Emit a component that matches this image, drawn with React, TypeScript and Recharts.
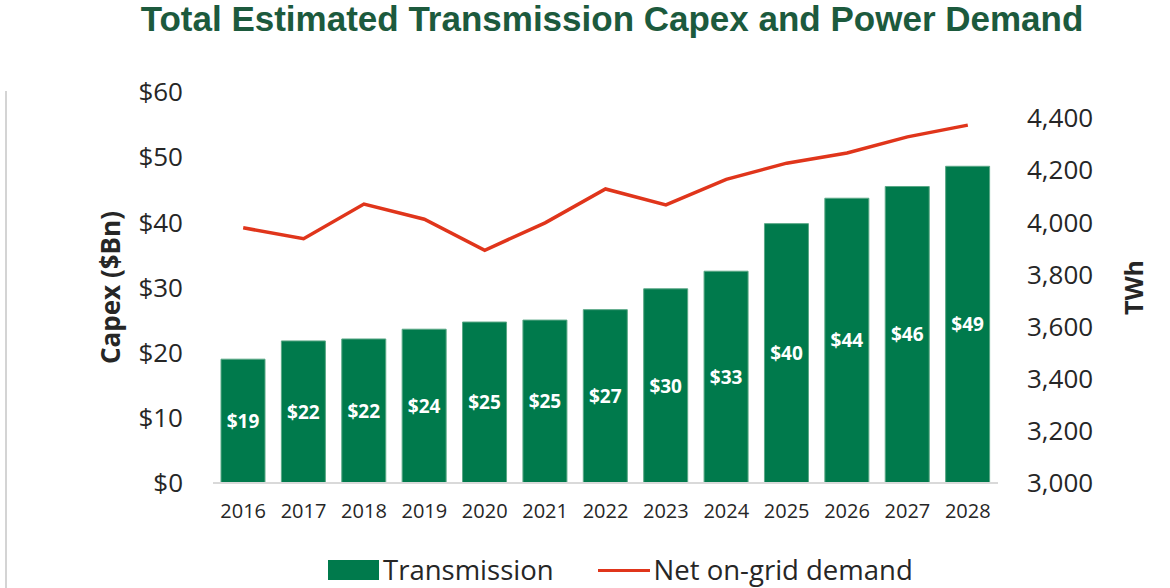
import { Bar, ComposedChart, LabelList, Line, XAxis, YAxis } from 'recharts';

const years = ['2016', '2017', '2018', '2019', '2020', '2021', '2022', '2023', '2024', '2025', '2026', '2027', '2028'];
const capex = [19.0, 21.8, 22.1, 23.6, 24.7, 25.0, 26.6, 29.8, 32.5, 39.8, 43.7, 45.5, 48.6];
const demand = [3979, 3937, 4070, 4012, 3893, 3998, 4128, 4067, 4165, 4227, 4266, 4328, 4373];
const capexTicks = [0, 10, 20, 30, 40, 50, 60];
const twhTicks = [3000, 3200, 3400, 3600, 3800, 4000, 4200, 4400];

const data = years.map((year, i) => ({ year, capex: capex[i], demand: demand[i] }));

const GREEN = '#007A4C';
const RED = '#E0351B';
const TEXT = '#262626';
const FONT = '"Open Sans", sans-serif';

export default function App() {
  return (
    <div style={{ position: 'absolute', left: 0, top: 0, width: 1170, height: 588, background: '#fff', fontFamily: FONT, overflow: 'hidden' }}>
      <div
        style={{
          position: 'absolute',
          top: 1,
          left: 112,
          width: 1000,
          textAlign: 'center',
          fontFamily: '"Liberation Sans", Arial, sans-serif',
          fontWeight: 700,
          fontSize: 35,
          lineHeight: '35px',
          color: '#1C5A3D',
          whiteSpace: 'nowrap',
        }}
      >
        Total Estimated Transmission Capex and Power Demand
      </div>
      <div style={{ position: 'absolute', left: 5, top: 91, width: 2, height: 497, background: '#d4d4d4' }} />
      <ComposedChart width={1170} height={588} data={data} margin={{ top: 92, right: 0, bottom: 0, left: 0 }} barSize={44}>
        <XAxis
          dataKey="year"
          height={105}
          tickLine={false}
          tickSize={0}
          tickMargin={21}
          axisLine={{ stroke: '#d9d9d9', strokeWidth: 2 }}
          tick={{ fill: TEXT, fontSize: 20, fontFamily: FONT }}
        />
        <YAxis
          yAxisId="l"
          width={213}
          domain={[0, 60]}
          ticks={capexTicks}
          tickFormatter={(v: number) => `$${v}`}
          axisLine={false}
          tickLine={false}
          tickSize={0}
          tickMargin={30}
          tick={{ fill: TEXT, fontSize: 26, fontFamily: FONT }}
          label={({ viewBox }: any) => (
            <text
              x={110}
              y={viewBox.y + viewBox.height / 2}
              transform={`rotate(-90, 110, ${viewBox.y + viewBox.height / 2})`}
              textAnchor="middle"
              dominantBaseline="central"
              fill={TEXT}
              fontSize={26}
              fontWeight={700}
              fontFamily={FONT}
            >
              Capex ($Bn)
            </text>
          )}
        />
        <YAxis
          yAxisId="r"
          orientation="right"
          width={172}
          domain={[3000, 4500]}
          ticks={twhTicks}
          tickFormatter={(v: number) => v.toLocaleString('en-US')}
          axisLine={false}
          tickLine={false}
          tickSize={0}
          tickMargin={29}
          tick={{ fill: TEXT, fontSize: 26, fontFamily: FONT, textAnchor: 'start' }}
          label={({ viewBox }: any) => (
            <text
              x={1133}
              y={viewBox.y + viewBox.height / 2}
              transform={`rotate(-90, 1133, ${viewBox.y + viewBox.height / 2})`}
              textAnchor="middle"
              dominantBaseline="central"
              fill={TEXT}
              fontSize={25}
              fontWeight={700}
              fontFamily={FONT}
            >
              TWh
            </text>
          )}
        />
        <Bar yAxisId="l" dataKey="capex" fill={GREEN} stroke="#5aa886" strokeWidth={1} isAnimationActive={false}>
          <LabelList
            dataKey="capex"
            position="center"
            formatter={(v: any) => `$${Math.round(Number(v))}`}
            fill="#fff"
            fontSize={19}
            fontWeight={700}
            fontFamily={FONT}
          />
        </Bar>
        <Line yAxisId="r" dataKey="demand" stroke={RED} strokeWidth={3.5} dot={false} activeDot={false} type="linear" isAnimationActive={false} />
      </ComposedChart>
      <div style={{ position: 'absolute', top: 554, left: 328, display: 'flex', alignItems: 'center', fontSize: 27.5, color: TEXT, lineHeight: '32px', whiteSpace: 'nowrap' }}>
        <div style={{ display: 'flex', alignItems: 'center' }}>
          <span style={{ width: 51, height: 20, background: GREEN, marginRight: 4 }} />
          <span>Transmission</span>
        </div>
        <div style={{ display: 'flex', alignItems: 'center', marginLeft: 44 }}>
          <span style={{ width: 52, height: 3, background: RED, marginRight: 4 }} />
          <span>Net on-grid demand</span>
        </div>
      </div>
    </div>
  );
}
